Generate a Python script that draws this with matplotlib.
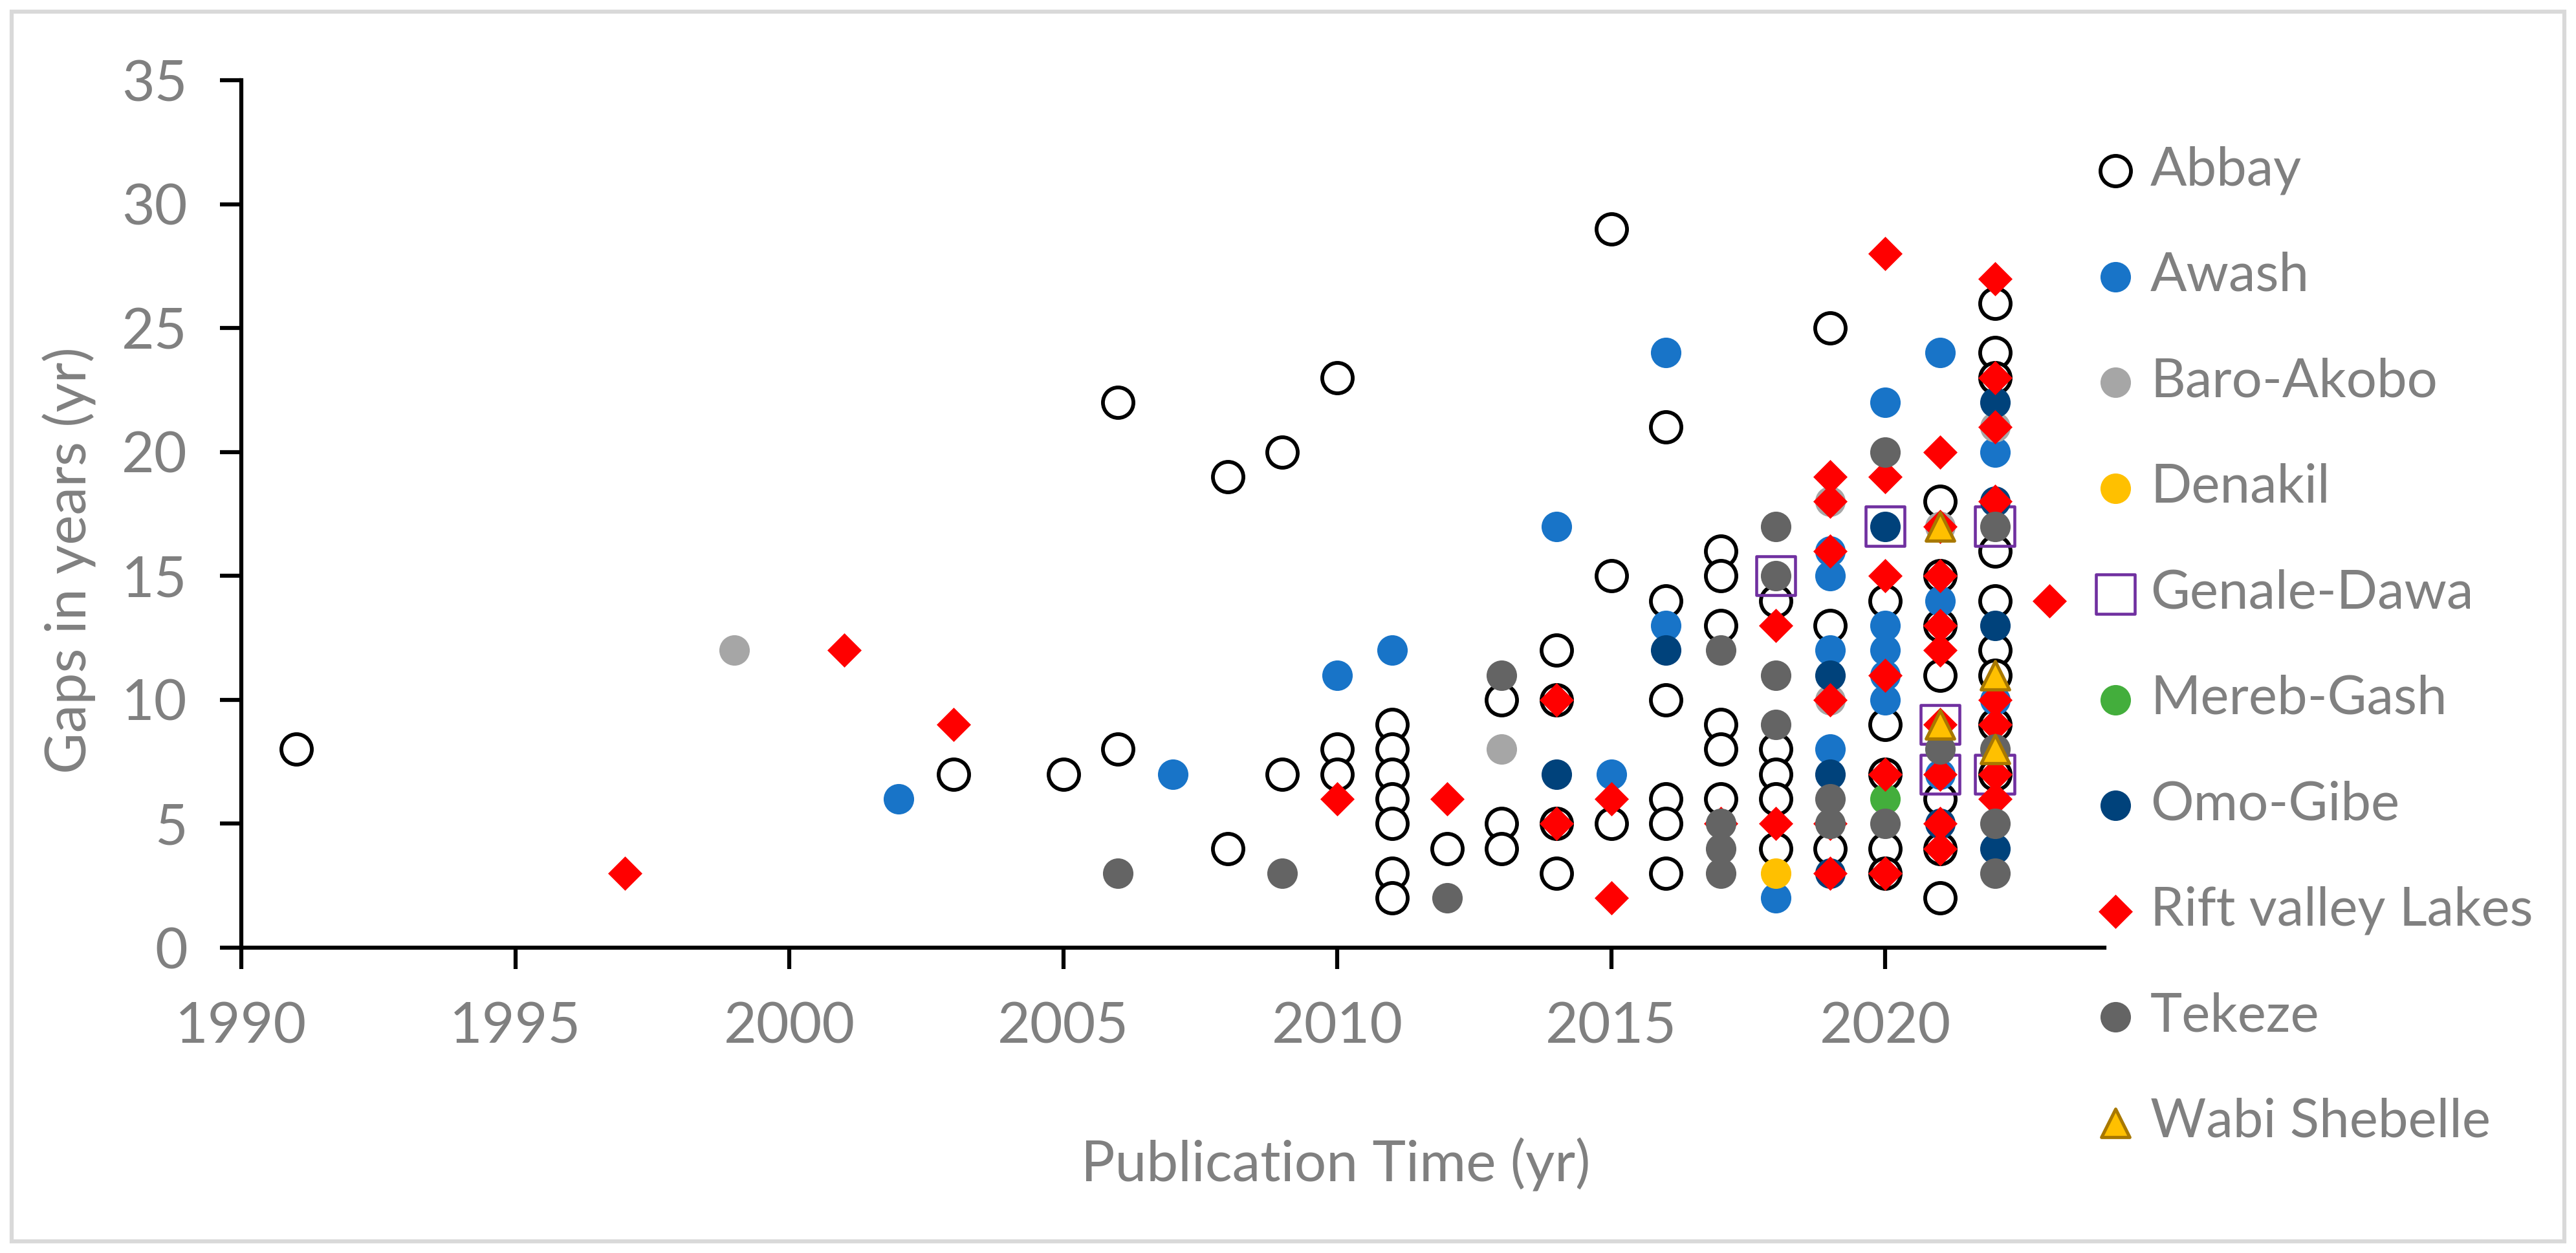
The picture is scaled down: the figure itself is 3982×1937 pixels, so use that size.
import matplotlib
matplotlib.use("Agg")
import matplotlib.pyplot as plt
from matplotlib.patches import Rectangle

plt.rcParams['font.family'] = ['Lato', 'DejaVu Sans']

# gap (yr) vs publication year, per basin
abbay_x = [1991, 2003, 2005, 2006, 2006, 2008, 2008, 2009, 2009, 2010, 2010, 2010,
           2011, 2011, 2011, 2011, 2011, 2011, 2011, 2012, 2013, 2013, 2013,
           2014, 2014, 2014, 2014, 2015, 2015, 2015,
           2016, 2016, 2016, 2016, 2016, 2016,
           2017, 2017, 2017, 2017, 2017, 2017,
           2018, 2018, 2018, 2018, 2018, 2019, 2019, 2019,
           2020, 2020, 2020, 2020, 2020,
           2021, 2021, 2021, 2021, 2021, 2021, 2021,
           2022, 2022, 2022, 2022, 2022, 2022, 2022, 2022, 2022]
abbay_y = [8, 7, 7, 22, 8, 19, 4, 20, 7, 23, 8, 7,
           9, 8, 7, 6, 5, 3, 2, 4, 10, 5, 4,
           12, 10, 5, 3, 29, 15, 5,
           21, 14, 10, 6, 5, 3,
           16, 15, 13, 9, 8, 6,
           14, 8, 7, 6, 4, 25, 13, 4,
           14, 9, 7, 4, 3,
           18, 15, 13, 11, 6, 4, 2,
           26, 24, 23, 16, 14, 12, 11, 9, 7]

awash_x = [2002, 2007, 2010, 2011, 2014, 2015, 2016, 2016, 2018,
           2019, 2019, 2019, 2019, 2020, 2020, 2020, 2020, 2020,
           2021, 2021, 2021, 2022, 2022]
awash_y = [6, 7, 11, 12, 17, 7, 24, 13, 2,
           16, 15, 12, 8, 22, 13, 12, 11, 10,
           24, 14, 7, 20, 10]

baro_x = [1999, 2013, 2019, 2019, 2021, 2022]
baro_y = [12, 8, 18, 10, 17, 21]

denakil_x = [2018]
denakil_y = [3]

genale_x = [2018, 2020, 2021, 2021, 2022, 2022]
genale_y = [15, 17, 9, 7, 17, 7]

mereb_x = [2020]
mereb_y = [6]

omo_x = [2014, 2016, 2019, 2019, 2019, 2020, 2021, 2022, 2022, 2022, 2022]
omo_y = [7, 12, 11, 7, 3, 17, 5, 22, 18, 13, 4]

rift_x = [1997, 2001, 2003, 2010, 2012, 2014, 2014, 2015, 2015, 2017,
          2018, 2018, 2019, 2019, 2019, 2019, 2019, 2019,
          2020, 2020, 2020, 2020, 2020, 2020,
          2021, 2021, 2021, 2021, 2021, 2021, 2021, 2021, 2021,
          2022, 2022, 2022, 2022, 2022, 2022, 2022, 2022, 2023]
rift_y = [3, 12, 9, 6, 6, 10, 5, 6, 2, 5,
          13, 5, 19, 18, 16, 10, 5, 3,
          28, 19, 15, 11, 7, 3,
          20, 17, 15, 13, 12, 9, 7, 5, 4,
          27, 23, 21, 18, 10, 9, 7, 6, 14]

tekeze_x = [2006, 2009, 2012, 2013, 2017, 2017, 2017, 2017,
            2018, 2018, 2018, 2018, 2019, 2019, 2020, 2020, 2021,
            2022, 2022, 2022, 2022]
tekeze_y = [3, 3, 2, 11, 12, 5, 4, 3,
            17, 15, 11, 9, 6, 5, 20, 5, 8,
            17, 8, 5, 3]

wabi_x = [2021, 2021, 2022, 2022]
wabi_y = [17, 9, 11, 8]

grey = '#808080'

W, H, DPI = 3982, 1937, 300
fig = plt.figure(figsize=(W / DPI, H / DPI), dpi=DPI)
ax = fig.add_axes([373 / W, 1 - 1465 / H, (3253 - 373) / W, (1465 - 124) / H])

# chart area border like Excel
fig.patches.append(Rectangle((18 / W, 18 / H), 1 - 36 / W, 1 - 36 / H,
                             transform=fig.transFigure, fill=False,
                             edgecolor='#D9D9D9', linewidth=1.5, zorder=0))

circ = 11.3 ** 2
ax.scatter(abbay_x, abbay_y, s=circ, marker='o', facecolor='white',
           edgecolor='black', linewidth=1.4, label='Abbay', zorder=3)
ax.scatter(awash_x, awash_y, s=circ, marker='o', color='#1874C8',
           linewidth=0, label='Awash', zorder=4)
ax.scatter(baro_x, baro_y, s=circ, marker='o', color='#A6A6A6',
           linewidth=0, label='Baro-Akobo', zorder=5)
ax.scatter(denakil_x, denakil_y, s=circ, marker='o', color='#FFC000',
           linewidth=0, label='Denakil', zorder=6)
ax.scatter(genale_x, genale_y, s=14.5 ** 2, marker='s', facecolor='none',
           edgecolor='#7030A0', linewidth=1.1, label='Genale-Dawa', zorder=7)
ax.scatter(mereb_x, mereb_y, s=circ, marker='o', color='#43AE3C',
           linewidth=0, label='Mereb-Gash', zorder=8)
ax.scatter(omo_x, omo_y, s=circ, marker='o', color='#00427B',
           linewidth=0, label='Omo-Gibe', zorder=9)
ax.scatter(rift_x, rift_y, s=9.0 ** 2, marker='D', color='#FF0000',
           linewidth=0, label='Rift valley Lakes', zorder=10)
ax.scatter(tekeze_x, tekeze_y, s=circ, marker='o', color='#646464',
           linewidth=0, label='Tekeze', zorder=11)
ax.scatter(wabi_x, wabi_y, s=10.5 ** 2, marker='^', facecolor='#FFC000',
           edgecolor='#A87800', linewidth=1.2, label='Wabi Shebelle', zorder=12)

ax.set_xlim(1990, 2024)
ax.set_ylim(0, 35)
ax.set_xticks(range(1990, 2021, 5))
ax.set_yticks(range(0, 36, 5))

for side in ['top', 'right']:
    ax.spines[side].set_visible(False)
for side in ['left', 'bottom']:
    ax.spines[side].set_linewidth(1.5)
    ax.spines[side].set_color('black')
ax.tick_params(axis='both', length=8, width=1.5, color='black',
               labelcolor=grey, labelsize=21, pad=12)

fig.text(107 / W, 1 - 866 / H, 'Gaps in years (yr)', rotation=90,
         ha='center', va='center', color=grey, fontsize=21)
fig.text(2065 / W, 1 - 1800 / H, 'Publication Time (yr)',
         ha='center', va='center', color=grey, fontsize=21)

fig.legend(loc='upper left', bbox_to_anchor=(3195 / W, 1 - 192 / H),
           frameon=False, fontsize=20, labelcolor=grey, labelspacing=1.05,
           handletextpad=0.15, handlelength=1.0, borderaxespad=0,
           scatterpoints=1)

plt.savefig('out.png', dpi=DPI)
plt.close()
